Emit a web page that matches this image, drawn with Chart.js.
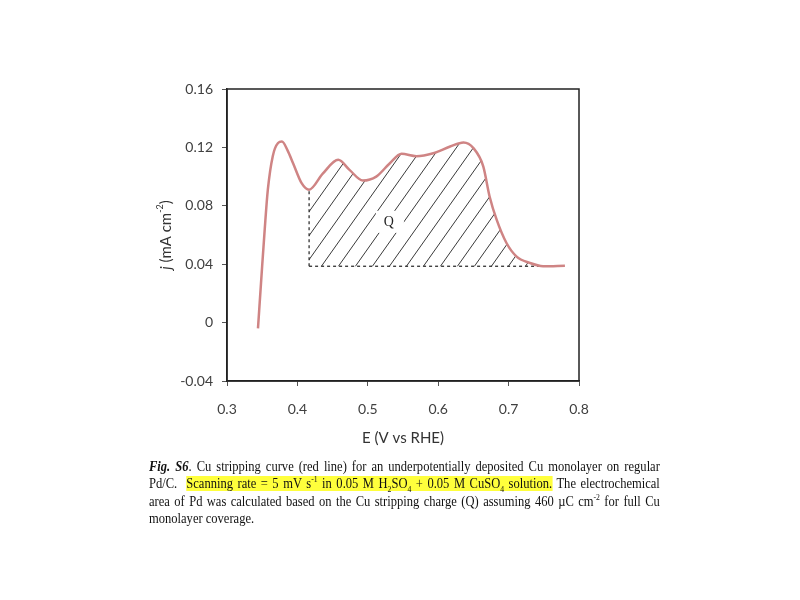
<!DOCTYPE html>
<html>
<head>
<meta charset="utf-8">
<script src="https://cdn.jsdelivr.net/npm/chart.js@4/dist/chart.umd.min.js"></script>
<style>
  body { margin: 0; background: #fff; }
  #wrap { position: absolute; left: 0; top: 0; width: 800px; height: 600px; }
  .cap { position: absolute; left: 149px; top: 458px; width: 562px;
         transform: scaleX(0.909); transform-origin: 0 0;
         font-family: "Liberation Serif", "Times New Roman", serif; font-size: 13.8px;
         line-height: 17.3px; color: #111; }
  .cap div { text-align: justify; text-align-last: justify; white-space: normal; }
  .cap div.last { text-align-last: left; }
  .cap sup, .cap sub { font-size: 8.5px; line-height: 0; }
  .hl { background: #ffff3c; }
</style>
</head>
<body>
<div id="wrap"><canvas id="grafico" width="800" height="600"></canvas></div>
<div class="cap">
  <div><b><i>Fig. S6</i></b>. Cu stripping curve (red line) for an underpotentially deposited Cu monolayer on regular</div>
  <div>Pd/C. &nbsp;<span class="hl">Scanning rate = 5 mV s<sup>-1</sup> in 0.05 M H<sub>2</sub>SO<sub>4</sub> + 0.05 M CuSO<sub>4</sub> solution.</span> The electrochemical</div>
  <div>area of Pd was calculated based on the Cu stripping charge (Q) assuming 460 &micro;C cm<sup>-2</sup> for full Cu</div>
  <div class="last">monolayer coverage.</div>
</div>
<script>
// curva de stripping do Cu
const potencial = [0.344, 0.349, 0.3536, 0.358, 0.365, 0.3725, 0.378, 0.386, 0.394, 0.406, 0.4166,
  0.436, 0.458, 0.474, 0.493, 0.512, 0.531, 0.548, 0.569, 0.593, 0.617, 0.636, 0.650,
  0.664, 0.673, 0.683, 0.697, 0.711, 0.730, 0.749, 0.780];
const corrente = [-0.004, 0.032, 0.064, 0.091, 0.114, 0.123, 0.124, 0.118, 0.109, 0.0955, 0.091,
  0.102, 0.1115, 0.1046, 0.0973, 0.100, 0.109, 0.1156, 0.114, 0.116, 0.1206, 0.1233, 0.1195,
  0.107, 0.0864, 0.0705, 0.0545, 0.0454, 0.0409, 0.0386, 0.039];

// area Q: linha de base e inicio
const linhaBase = 0.0386;
const inicioQ = 0.4166;
const fimQ = 0.78;

const xTicks = [0.3, 0.4, 0.5, 0.6, 0.7, 0.8];
const yTicks = [-0.04, 0, 0.04, 0.08, 0.12, 0.16];

const pontos = potencial.map((x, i) => ({ x, y: corrente[i] }));
const pontosQ = pontos.filter(p => p.x >= inicioQ);

// padrao hachurado
function hachura() {
  const w = 17, h = 24;
  const c = document.createElement("canvas");
  c.width = w; c.height = h;
  const g = c.getContext("2d");
  g.strokeStyle = "#222";
  g.lineWidth = 0.9;
  [0, -w, w].forEach(dx => {
    g.beginPath();
    g.moveTo(dx, h);
    g.lineTo(dx + w, 0);
    g.stroke();
  });
  return g.createPattern(c, "repeat");
}

const moldura = {
  id: "moldura",
  afterDraw(chart) {
    const { ctx, chartArea: a, scales } = chart;
    ctx.save();
    ctx.strokeStyle = "#222";
    ctx.lineWidth = 1.5;
    ctx.strokeRect(a.left, a.top, a.right - a.left, a.bottom - a.top);

    // rotulo Q
    const qx = scales.x.getPixelForValue(0.53);
    const qy = scales.y.getPixelForValue(0.069);
    ctx.fillStyle = "#fff";
    ctx.fillRect(qx - 13, qy - 11, 28, 22);
    ctx.fillStyle = "#222";
    ctx.font = "14px 'Liberation Serif', serif";
    ctx.textAlign = "center";
    ctx.textBaseline = "middle";
    ctx.fillText("Q", qx, qy);

    // titulo x
    ctx.fillStyle = "#333";
    ctx.font = "15px Lato";
    ctx.fillText("E (V vs RHE)", (a.left + a.right) / 2, 438);

    // titulo y
    ctx.translate(166, 235);
    ctx.rotate(-Math.PI / 2);
    const partes = [
      { t: "j", f: "italic 15px Lato", dy: 0 },
      { t: " (mA cm", f: "15px Lato", dy: 0 },
      { t: "-2", f: "9px Lato", dy: -6 },
      { t: ")", f: "15px Lato", dy: 0 }
    ];
    let total = 0;
    partes.forEach(p => { ctx.font = p.f; total += ctx.measureText(p.t).width; });
    let cx = -total / 2;
    ctx.textAlign = "left";
    partes.forEach(p => {
      ctx.font = p.f;
      ctx.fillText(p.t, cx, p.dy);
      cx += ctx.measureText(p.t).width;
    });
    ctx.restore();
  }
};

const ctx = document.getElementById("grafico").getContext("2d");
new Chart(ctx, {
  type: "scatter",
  data: {
    datasets: [
      {
        label: "Cu stripping",
        data: pontos,
        showLine: true,
        borderColor: "#cf8484",
        borderWidth: 2.5,
        pointRadius: 0,
        cubicInterpolationMode: "monotone",
        order: 0
      },
      {
        label: "Q",
        data: pontosQ,
        showLine: true,
        borderWidth: 0,
        pointRadius: 0,
        cubicInterpolationMode: "monotone",
        backgroundColor: hachura(),
        fill: { value: linhaBase },
        order: 3
      },
      {
        label: "base",
        data: [{ x: inicioQ, y: linhaBase }, { x: fimQ, y: linhaBase }],
        showLine: true,
        borderColor: "#222",
        borderWidth: 1.2,
        borderDash: [3, 3],
        pointRadius: 0,
        order: 1
      },
      {
        label: "vertical",
        data: [{ x: inicioQ, y: linhaBase }, { x: inicioQ, y: 0.091 }],
        showLine: true,
        borderColor: "#222",
        borderWidth: 1.2,
        borderDash: [3, 3],
        pointRadius: 0,
        order: 1
      }
    ]
  },
  options: {
    responsive: false,
    animation: false,
    layout: { padding: { left: 0, top: 89, right: 221, bottom: 0 } },
    plugins: { legend: { display: false }, tooltip: { enabled: false } },
    scales: {
      x: {
        type: "linear",
        min: 0.3, max: 0.8,
        afterFit: s => { s.height = 219; },
        afterBuildTicks: s => { s.ticks = xTicks.map(v => ({ value: v })); },
        ticks: { padding: 15, color: "#404040", font: { family: "Lato", size: 14 },
                 callback: v => v.toFixed(1) },
        grid: { drawOnChartArea: false, tickLength: 5, color: "#555" },
        border: { color: "#222", width: 1.5 }
      },
      y: {
        min: -0.04, max: 0.16,
        afterFit: s => { s.width = 227; },
        afterBuildTicks: s => { s.ticks = yTicks.map(v => ({ value: v })); },
        ticks: { padding: 9, color: "#404040", font: { family: "Lato", size: 14 },
                 callback: v => (v === 0 ? "0" : v.toFixed(2)) },
        grid: { drawOnChartArea: false, tickLength: 5, color: "#555" },
        border: { color: "#222", width: 1.5 }
      }
    }
  },
  plugins: [moldura]
});
</script>
</body>
</html>
